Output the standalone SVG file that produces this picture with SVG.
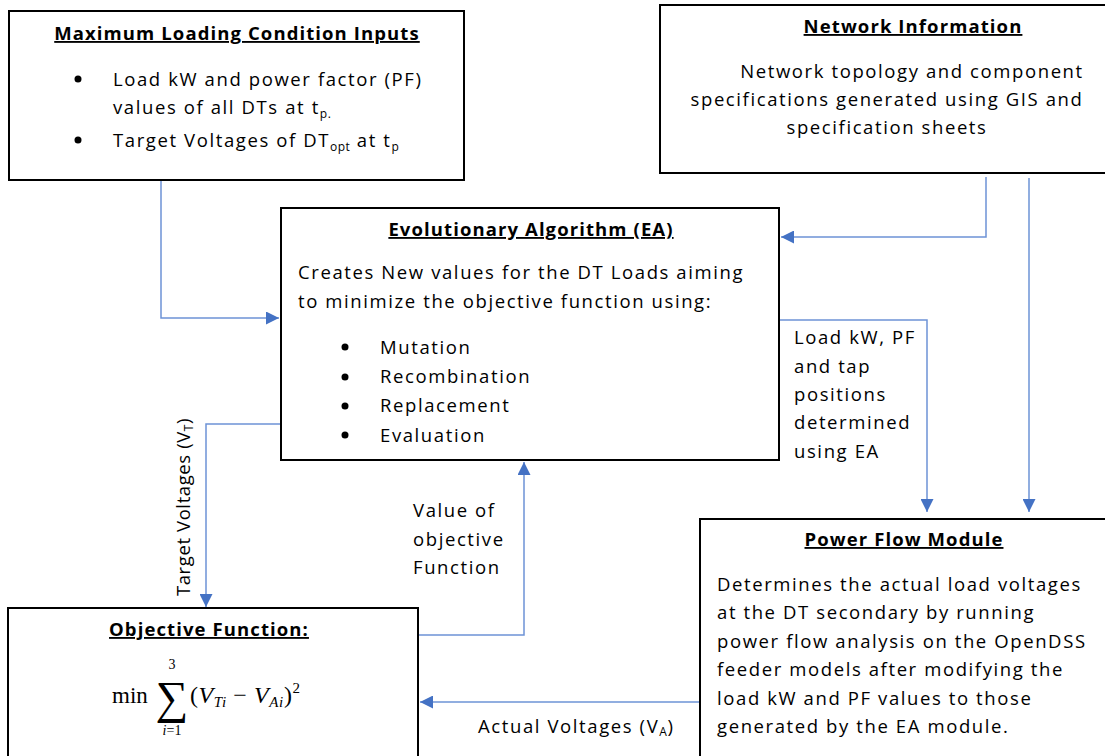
<svg xmlns="http://www.w3.org/2000/svg" width="1105" height="756" viewBox="0 0 1105 756">
<defs>
<style>
.box{fill:#fff;stroke:#000;stroke-width:2}
.t{font-family:"Open Sans","Liberation Sans",sans-serif;font-size:18.5px;letter-spacing:1.6px;fill:#000}
.h{font-family:"Open Sans","Liberation Sans",sans-serif;font-size:18.5px;letter-spacing:1.1px;font-weight:bold;fill:#000;text-decoration:underline;text-anchor:middle}
.c{fill:none;stroke:#6d93d6;stroke-width:1.5}
.sub{font-size:12px;letter-spacing:0.5px}
.m{font-family:"Liberation Serif","DejaVu Serif",serif;fill:#000}
</style>
<marker id="ah" viewBox="0 0 10 10" refX="10" refY="5" markerWidth="13" markerHeight="13" markerUnits="userSpaceOnUse" orient="auto">
<path d="M0,0 L10,5 L0,10 z" fill="#4472c4"/>
</marker>
</defs>
<rect width="1105" height="756" fill="#fff"/>
<g id="connectors">
<polyline class="c" points="161,181 161,318 279,318" marker-end="url(#ah)"/>
<polyline class="c" points="986,177 986,237 781,237" marker-end="url(#ah)"/>
<polyline class="c" points="1029,178 1029,512" marker-end="url(#ah)"/>
<polyline class="c" points="780,320 927,320 927,512" marker-end="url(#ah)"/>
<polyline class="c" points="281,424 206,424 206,607" marker-end="url(#ah)"/>
<polyline class="c" points="419,635 524,635 524,462" marker-end="url(#ah)"/>
<polyline class="c" points="700,702 420,702" marker-end="url(#ah)"/>
<text class="t" transform="translate(190,507) rotate(-90)" text-anchor="middle" style="letter-spacing:0.6px">Target Voltages (V<tspan class="sub" dy="3">T</tspan><tspan dy="-3">)</tspan></text>
<text class="t" x="413" y="517">Value of</text>
<text class="t" x="413" y="546">objective</text>
<text class="t" x="413" y="574">Function</text>
<text class="t" x="794" y="344">Load kW, PF</text>
<text class="t" x="794" y="373">and tap</text>
<text class="t" x="794" y="401">positions</text>
<text class="t" x="794" y="429">determined</text>
<text class="t" x="794" y="458">using EA</text>
<text class="t" x="478" y="733">Actual Voltages (V<tspan class="sub" dy="3">A</tspan><tspan dy="-3">)</tspan></text>
</g>
<g id="max-loading">
<rect class="box" x="9" y="11" width="455" height="169"/>
<text class="h" x="237" y="40">Maximum Loading Condition Inputs</text>
<circle cx="78" cy="79" r="3.5"/>
<text class="t" x="113" y="86">Load kW and power factor (PF)</text>
<text class="t" x="113" y="114">values of all DTs at t<tspan class="sub" dy="4">p.</tspan></text>
<circle cx="78" cy="140" r="3.5"/>
<text class="t" x="113" y="147">Target Voltages of DT<tspan class="sub" dy="4">opt</tspan><tspan dy="-4"> at t</tspan><tspan class="sub" dy="4">p</tspan></text>
</g>
<g id="network-info">
<rect class="box" x="660" y="5" width="450" height="168"/>
<text class="h" x="913" y="33">Network Information</text>
<text class="t" x="912" y="78" text-anchor="middle">Network topology and component</text>
<text class="t" x="887" y="106" text-anchor="middle">specifications generated using GIS and</text>
<text class="t" x="887" y="134" text-anchor="middle">specification sheets</text>
</g>
<g id="ea">
<rect class="box" x="281" y="208" width="498" height="252"/>
<text class="h" x="531" y="236">Evolutionary Algorithm (EA)</text>
<text class="t" x="298" y="279">Creates New values for the DT Loads aiming</text>
<text class="t" x="298" y="308">to minimize the objective function using:</text>
<circle cx="345" cy="347" r="3.5"/>
<text class="t" x="380" y="354">Mutation</text>
<circle cx="345" cy="377" r="3.5"/>
<text class="t" x="380" y="383">Recombination</text>
<circle cx="345" cy="406" r="3.5"/>
<text class="t" x="380" y="412">Replacement</text>
<circle cx="345" cy="435" r="3.5"/>
<text class="t" x="380" y="442">Evaluation</text>
</g>
<g id="objective">
<rect class="box" x="8" y="608" width="410" height="160"/>
<text class="h" x="209" y="636">Objective Function:</text>
<text class="m" x="112" y="703" font-size="23">min</text>
<text class="m" x="172" y="713" font-size="46" text-anchor="middle">∑</text>
<text class="m" x="172" y="669" font-size="14" text-anchor="middle">3</text>
<text class="m" x="172" y="735" font-size="14" text-anchor="middle" font-style="italic">i<tspan font-style="normal">=1</tspan></text>
<text class="m" x="190" y="703" font-size="24" letter-spacing="0.6">(<tspan font-style="italic">V</tspan><tspan font-style="italic" font-size="15" dy="4">Ti</tspan><tspan dy="-4"> − </tspan><tspan font-style="italic">V</tspan><tspan font-style="italic" font-size="15" dy="4">Ai</tspan><tspan dy="-4">)</tspan><tspan font-size="15" dy="-10">2</tspan></text>
</g>
<g id="power-flow">
<rect class="box" x="700" y="519" width="410" height="250"/>
<text class="h" x="904" y="546">Power Flow Module</text>
<text class="t" x="717" y="591">Determines the actual load voltages</text>
<text class="t" x="717" y="619">at the DT secondary by running</text>
<text class="t" x="717" y="648">power flow analysis on the OpenDSS</text>
<text class="t" x="717" y="676">feeder models after modifying the</text>
<text class="t" x="717" y="705">load kW and PF values to those</text>
<text class="t" x="717" y="733">generated by the EA module.</text>
</g>
</svg>
